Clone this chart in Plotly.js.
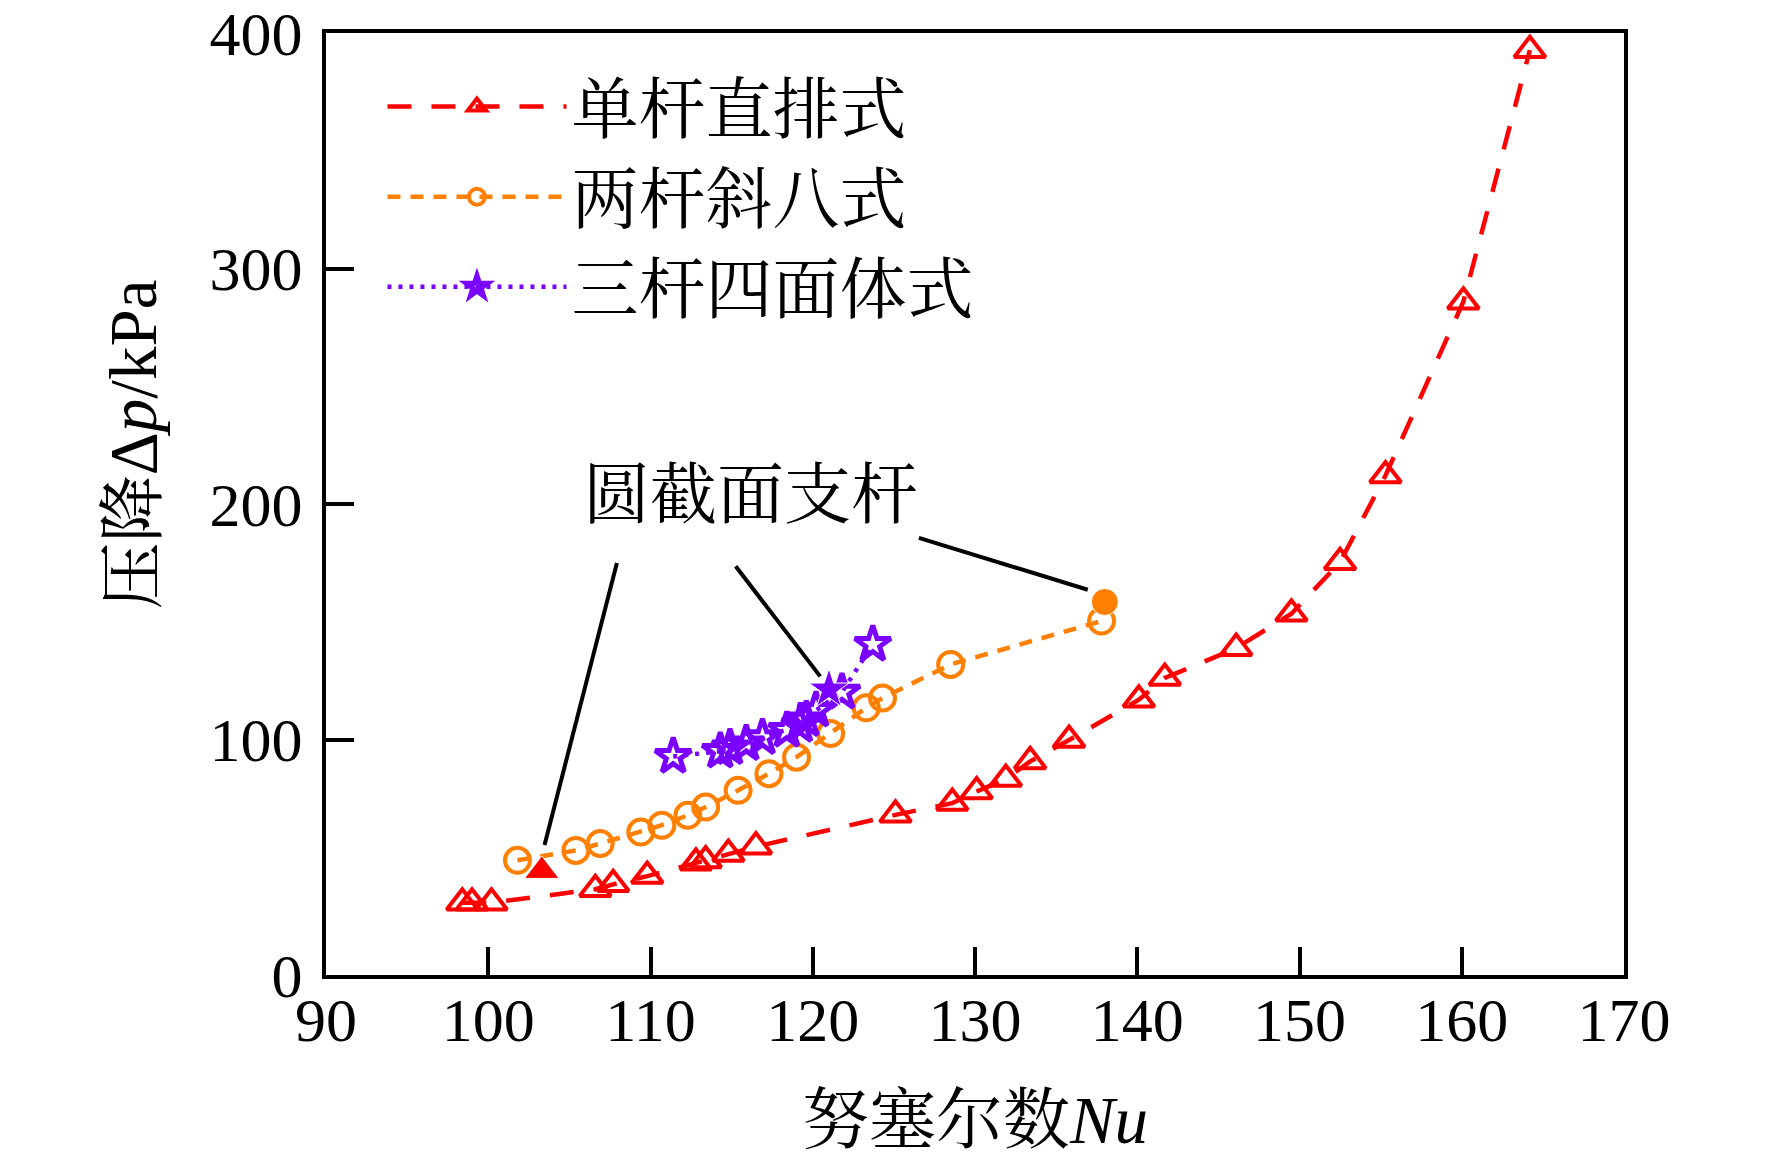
<!DOCTYPE html>
<html>
<head>
<meta charset="utf-8">
<script src="https://cdn.plot.ly/plotly-3.0.1.min.js"></script>
<style>
  html, body { margin: 0; padding: 0; background: #fff; }
  #chart { width: 1772px; height: 1169px; }
</style>
</head>
<body>
<div id="chart"></div>
<script>
// single straight-row struts (red triangles)
const singleNu = [98.4, 99.0, 100.2, 106.6, 107.7, 109.8, 112.8, 113.4, 114.8, 116.5,
                  125.1, 128.6, 130.1, 131.9, 133.4, 135.8, 140.1, 141.7, 146.1, 149.5,
                  152.5, 155.3, 160.1, 164.2];
const singleDp = [30.7, 30.7, 30.7, 36.4, 38.5, 42.0, 47.7, 48.6, 51.4, 54.5,
                  68.0, 73.0, 77.9, 83.2, 90.7, 99.8, 116.9, 126.1, 138.8, 153.4,
                  175.3, 212.1, 285.9, 392.7];

// two struts, inclined (orange circles)
const twoNu = [101.8, 105.4, 106.9, 109.4, 110.7, 112.3, 113.4, 115.4, 117.3, 119.0,
               121.1, 123.3, 124.3, 128.5, 137.8];
const twoDp = [48.7, 52.9, 55.8, 60.7, 63.6, 67.8, 71.3, 78.4, 85.5, 92.5,
               102.5, 113.5, 117.6, 131.9, 150.3];

// three struts, tetrahedral (purple stars)
const threeNu = [111.4, 114.3, 114.9, 115.9, 116.9, 118.4, 119.2, 119.6, 120.2, 121.8, 123.7];
const threeDp = [92.8, 95.0, 96.5, 98.2, 100.8, 103.9, 106.0, 108.4, 112.4, 120.1, 140.4];

// circular cross-section struts (filled markers)
const roundNu = [103.3, 138.0, 121.0];
const roundDp = [44.2, 158.4, 121.2];

const legendNames = ['单杆直排式', '两杆斜八式', '三杆四面体式'];
const calloutText = '圆截面支杆';
const calloutPos = [116.15, 203.9];
// callout leader lines: [x0, y0, x1, y1]
const calloutLines = [
  [107.93, 175.0, 103.47, 55.2],
  [115.25, 173.6, 120.46, 126.8],
  [126.54, 185.6, 136.95, 163.6]
];

const RED = '#ff0000', ORANGE = '#ff8000', PURPLE = '#7a00ff';
const FONT = '"Liberation Serif", "Times New Roman", "Noto Serif CJK SC", "Noto Sans CJK SC", serif';
const TEXT_SIZE = 67, TICK_SIZE = 62;

var trace1 = {
  x: singleNu, y: singleDp,
  mode: 'lines+markers',
  name: legendNames[0],
  legendgroup: 'a',
  line: {color: RED, width: 4.5, dash: '24px,20px'},
  marker: {symbol: 'triangle-up-open', size: 27, color: RED, line: {width: 4, color: RED}}
};

var trace2 = {
  x: twoNu, y: twoDp,
  mode: 'lines+markers',
  name: legendNames[1],
  legendgroup: 'b',
  line: {color: ORANGE, width: 4.5, dash: '13px,10px'},
  marker: {symbol: 'circle-open', size: 25, color: ORANGE, line: {width: 4, color: ORANGE}}
};

var trace3 = {
  x: threeNu, y: threeDp,
  mode: 'lines+markers',
  name: legendNames[2],
  legendgroup: 'c',
  line: {color: PURPLE, width: 4.5, dash: '4px,7px'},
  marker: {symbol: 'star-open', size: 27, color: PURPLE, line: {width: 5, color: PURPLE}}
};

var trace4 = {
  x: roundNu, y: roundDp,
  mode: 'markers',
  showlegend: false,
  marker: {
    symbol: ['triangle-up', 'circle', 'star'],
    size: [30, 27, 30],
    opacity: 1,
    color: [RED, ORANGE, PURPLE]
  }
};

var data = [trace1, trace2, trace3, trace4];

var shapes = calloutLines.map(l => ({
  type: 'line', xref: 'x', yref: 'y',
  x0: l[0], y0: l[1], x1: l[2], y1: l[3],
  line: {color: '#000', width: 4}
}));

var layout = {
  width: 1772, height: 1169,
  margin: {l: 326, r: 148, t: 33, b: 194},
  paper_bgcolor: '#fff', plot_bgcolor: '#fff',
  font: {family: FONT, size: TEXT_SIZE, color: '#000'},
  showlegend: true,
  legend: {
    x: 0.0435, y: 0.975, xanchor: 'left', yanchor: 'top',
    bgcolor: 'rgba(0,0,0,0)',
    font: {family: FONT, size: TEXT_SIZE, color: '#000'},
    itemwidth: 179,
    tracegroupgap: 0
  },
  xaxis: {
    range: [90, 170],
    tickvals: [90, 100, 110, 120, 130, 140, 150, 160, 170],
    ticks: 'inside', ticklen: 28, tickwidth: 4, tickcolor: '#000',
    showline: true, linewidth: 4, linecolor: '#000', mirror: true,
    showgrid: false, zeroline: false,
    ticklabelstandoff: -12,
    ticklabeloverflow: 'allow',
    tickfont: {family: FONT, size: TICK_SIZE},
    title: {text: '努塞尔数<i>Nu</i>', font: {family: FONT, size: TEXT_SIZE}, standoff: 44}
  },
  yaxis: {
    range: [0, 400],
    tickvals: [0, 100, 200, 300, 400],
    ticks: 'inside', ticklen: 28, tickwidth: 4, tickcolor: '#000',
    showline: true, linewidth: 4, linecolor: '#000', mirror: true,
    showgrid: false, zeroline: false,
    ticklabelstandoff: 7,
    ticklabeloverflow: 'allow',
    tickfont: {family: FONT, size: TICK_SIZE}
  },
  shapes: shapes,
  annotations: [
    {
      text: calloutText, x: calloutPos[0], y: calloutPos[1], xref: 'x', yref: 'y',
      showarrow: false, font: {family: FONT, size: TEXT_SIZE}
    },
    {
      text: '压降Δ<i>p</i>/kPa', textangle: -90,
      xref: 'paper', yref: 'paper', x: -0.149, y: 0.563,
      xanchor: 'center', yanchor: 'middle',
      showarrow: false, font: {family: FONT, size: TEXT_SIZE}
    }
  ]
};

window.addEventListener('load', (event) => {
  Plotly.newPlot('chart', data, layout, {staticPlot: true});
});
</script>
</body>
</html>
